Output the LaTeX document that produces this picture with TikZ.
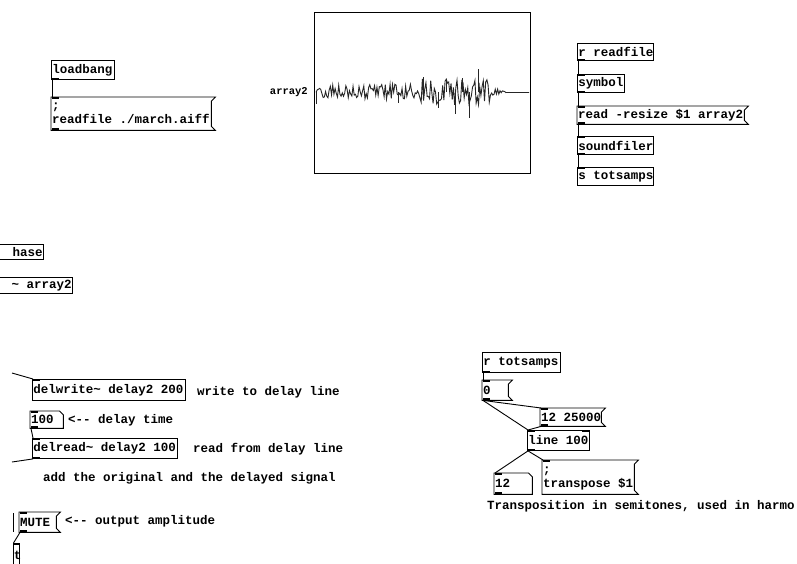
\documentclass[tikz,border=0pt]{standalone}
\usepackage{fontspec}
\setmonofont{Liberation Mono}
\usetikzlibrary{calc}
\newcommand\pdf{\fontsize{12.5}{14}\selectfont\ttfamily\bfseries}
\newcommand\pdsmall{\fontsize{10.5}{12}\selectfont\ttfamily\bfseries}
\newcommand\pdnode[7]{%
  \pgfmathsetmacro\pdw{#5-#3}\pgfmathsetmacro\pdh{#6-#4}\pgfmathsetmacro\pdtw{#5-#3-2}%
  \node[#2, minimum width=\pdw pt, minimum height=\pdh pt] (#1) at (#3,#4) {\makebox[\pdtw pt][l]{#7}};}
\newcommand\pdtwo[2]{\begin{tabular}{@{}l@{}}#1\\#2\end{tabular}}
\newcommand\msgflag[1]{\draw[pdline] (#1.north west) -- ([xshift=4pt]#1.north east) -- ([yshift=-4pt]#1.north east) -- ([yshift=4pt]#1.south east) -- ([xshift=4pt]#1.south east) -- (#1.south west) -- cycle;}
\newcommand\atomflag[1]{\draw[pdline] (#1.north west) -- ([xshift=-4pt]#1.north east) -- ([yshift=-4pt]#1.north east) -- (#1.south east) -- (#1.south west) -- cycle;}
\newcommand\pdin[1]{\fill ([xshift=0.5pt]#1.north west) rectangle ++(7,2);}
\newcommand\pdout[1]{\fill ([xshift=0.5pt]#1.south west) rectangle ++(7,-2);}
\newcommand\pdconn[2]{\draw[pdline] ([xshift=1pt]#1.south west) -- ([xshift=1pt]#2.north west);}
\tikzset{
  pdline/.style={line width=0.9pt, draw=black},
  pdbase/.style={font=\pdf, inner xsep=1pt, inner ysep=0pt, anchor=north west, align=left},
  pdobj/.style={pdbase, draw, line width=0.9pt},
  pdmsg/.style={pdbase},
  pdcomment/.style={font=\pdf, inner sep=0pt, anchor=west},
  wave/.style={black!85, line width=0.9pt},
}
\begin{document}
\begin{tikzpicture}[x=1pt,y=-1pt]
\useasboundingbox[fill=white] (0,0) rectangle (797,563);

% loadbang / message
\pdnode{loadbang}{pdobj}{51}{60}{114}{79}{loadbang}
\pdnode{readmsg}{pdmsg}{51}{97}{211}{130}{\pdtwo{;}{readfile ./march.aiff}}
\msgflag{readmsg}

% graph
\node[draw, line width=0.9pt, minimum width=216pt, minimum height=161pt, anchor=north west, inner sep=0pt] (graph) at (314,12) {};
\node[font=\pdsmall, anchor=east, inner sep=0pt] (glabel) at (308,92) {array2};
\begin{scope}
\clip (315,13) rectangle (529,172);
\pgfmathsetseed{11}
\draw[wave] plot[domain=316:506, samples=160]
  (\x, {92 + (\x<330 ? 7 : (\x<420 ? 8 : (\x<490 ? 13 : (\x<500 ? 4 : 1.5))))*rand});
\draw[wave] (506,92) -- (530,92);
\draw[wave] (316,92) -- (316,104);
\draw[wave] (478,92) -- (478,69);
\draw[wave] (469,92) -- (469,118);
\draw[wave] (455,92) -- (455,114);
\draw[wave] (423,92) -- (423,77);
\draw[wave] (438,92) -- (438,108);
\draw[wave] (462,92) -- (462,78);
\draw[wave] (446,92) -- (446,79);
\draw[wave] (398,92) -- (398,103);
\end{scope}

% right chain
\pdnode{rreadfile}{pdobj}{577}{43}{653}{60}{r readfile}
\pdnode{symbol}{pdobj}{577}{74}{624}{92}{symbol}
\pdnode{readresize}{pdmsg}{577}{106}{744}{124}{read -resize \$1 array2}
\msgflag{readresize}
\pdnode{soundfiler}{pdobj}{577}{136}{653}{154}{soundfiler}
\pdnode{stotsamps}{pdobj}{577}{167}{653}{185}{s totsamps}

% cut-off objects at left
\node[pdobj, anchor=north east, minimum width=80pt, minimum height=15pt] (hase) at (44,244) {\makebox[78pt][r]{hase}};
\node[pdobj, anchor=north east, minimum width=100pt, minimum height=16pt] (tabarray) at (73,277) {\makebox[98pt][r]{\textasciitilde{} array2}};

% delay section
\coordinate (inA) at (12,373);
\coordinate (inB) at (12,462);
\pdnode{delwrite}{pdobj}{32}{379}{185}{400}{delwrite\textasciitilde{} delay2 200}
\node[pdcomment] (c1) at (197,392) {write to delay line};
\pdnode{dtime}{pdmsg}{30}{411}{63}{428}{100}
\atomflag{dtime}
\node[pdcomment] (c2) at (68,420) {<-- delay time};
\pdnode{delread}{pdobj}{32}{438}{177}{458}{delread\textasciitilde{} delay2 100}
\node[pdcomment] (c3) at (193,449) {read from delay line};
\node[pdcomment] (c4) at (43,478) {add the original and the delayed signal};

% mute
\coordinate (vA) at (13,513);
\coordinate (vB) at (13,532);
\pdnode{mute}{pdmsg}{19}{512}{56}{532}{MUTE}
\msgflag{mute}
\node[pdcomment] (c5) at (65,521) {<-- output amplitude};
\pdnode{tbox}{pdobj}{12.5}{543}{19}{566}{t}

% transposition section
\pdnode{rtotsamps}{pdobj}{482}{352}{560}{372}{r totsamps}
\pdnode{zero}{pdmsg}{482}{380}{508}{400}{0}
\msgflag{zero}
\pdnode{twelvek}{pdmsg}{540}{408}{601}{426}{12 25000}
\msgflag{twelvek}
\pdnode{line}{pdobj}{527}{430}{589}{450}{line 100}
\pdnode{twelve}{pdmsg}{494}{473}{532}{494}{12}
\atomflag{twelve}
\pdnode{transp}{pdmsg}{542}{460}{634}{494}{\pdtwo{;}{transpose \$1}}
\msgflag{transp}
\node[pdcomment] (c6) at (487,506) {Transposition in semitones, used in harmo};

% iolets
\pdout{loadbang}
\pdin{readmsg}\pdout{readmsg}
\pdout{rreadfile}
\pdin{symbol}\pdout{symbol}
\pdin{readresize}\pdout{readresize}
\pdin{soundfiler}\pdout{soundfiler}
\pdin{stotsamps}
\pdin{delwrite}
\pdin{dtime}\pdout{dtime}
\pdin{delread}\pdout{delread}
\pdin{mute}\pdout{mute}
\pdin{tbox}
\pdout{rtotsamps}
\pdin{zero}\pdout{zero}
\pdin{twelvek}\pdout{twelvek}
\pdin{line}\pdout{line}
\fill ([xshift=-7.5pt]line.north east) rectangle ++(7,2);
\pdin{twelve}\pdout{twelve}
\pdin{transp}

% connections
\pdconn{loadbang}{readmsg}
\pdconn{rreadfile}{symbol}
\pdconn{symbol}{readresize}
\pdconn{readresize}{soundfiler}
\pdconn{soundfiler}{stotsamps}
\draw[pdline] (inA) -- ([xshift=1pt]delwrite.north west);
\pdconn{dtime}{delread}
\draw[pdline] (inB) -- ([xshift=1pt]delread.south west);
\draw[pdline] (vA) -- (vB);
\pdconn{mute}{tbox}
\pdconn{rtotsamps}{zero}
\pdconn{zero}{line}
\pdconn{zero}{twelvek}
\pdconn{twelvek}{line}
\pdconn{line}{twelve}
\pdconn{line}{transp}
\end{tikzpicture}
\end{document}
